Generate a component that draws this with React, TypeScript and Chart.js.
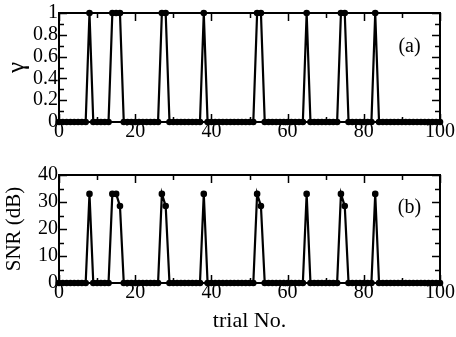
import React, { useEffect, useRef } from "react";
import { Chart, registerables } from "chart.js";

Chart.register(...registerables);

// trials 0..100
const trialStart = 0;
const trialEnd = 100;
// trials where gamma = 1 and the SNR (dB) measured at those trials
const spikeTrials = [8, 14, 15, 16, 27, 28, 38, 52, 53, 65, 74, 75, 83];
const snrAtSpikes = [33, 33, 33, 28.5, 33, 28.5, 33, 33, 28.5, 33, 33, 28.5, 33];
const xTickLabels = [0, 20, 40, 60, 80, 100];
const gammaTickLabels = [0, 0.2, 0.4, 0.6, 0.8, 1];
const snrTickLabels = [0, 10, 20, 30, 40];

const FONT = "'Liberation Serif', 'Times New Roman', serif";

function buildSeries(kind: "gamma" | "snr") {
  const pts: { x: number; y: number }[] = [];
  for (let t = trialStart; t <= trialEnd; t++) {
    const idx = spikeTrials.indexOf(t);
    if (kind === "gamma") pts.push({ x: t, y: idx >= 0 ? 1 : 0 });
    else pts.push({ x: t, y: idx >= 0 ? snrAtSpikes[idx] : 0 });
  }
  return pts;
}

const frameTicks = {
  id: "frameTicks",
  afterDatasetsDraw(chart: any, _args: any, opts: any) {
    const { ctx, chartArea: a, scales } = chart;
    const xs = scales.x;
    const ys = scales.y;
    ctx.save();
    ctx.strokeStyle = "#000";
    ctx.lineWidth = 1.5;
    const steps = (min: number, max: number, minor: number) => {
      const out: number[] = [];
      const n = Math.round((max - min) / minor);
      for (let i = 0; i <= n; i++) out.push(i);
      return out;
    };
    for (const i of steps(xs.min, xs.max, opts.xMinor)) {
      const v = xs.min + i * opts.xMinor;
      const px = Math.round(xs.getPixelForValue(v)) + 0.5;
      const major = i % opts.xRatio === 0;
      const len = major ? 8 : 5;
      ctx.beginPath();
      ctx.moveTo(px, a.bottom);
      ctx.lineTo(px, a.bottom - len);
      ctx.moveTo(px, a.top);
      ctx.lineTo(px, a.top + len);
      ctx.stroke();
    }
    for (const i of steps(ys.min, ys.max, opts.yMinor)) {
      const v = ys.min + i * opts.yMinor;
      const py = Math.round(ys.getPixelForValue(v)) + 0.5;
      const major = i % opts.yRatio === 0;
      const len = major ? 8 : 5;
      ctx.beginPath();
      ctx.moveTo(a.left, py);
      ctx.lineTo(a.left + len, py);
      ctx.moveTo(a.right, py);
      ctx.lineTo(a.right - len, py);
      ctx.stroke();
    }
    ctx.lineWidth = 2;
    ctx.strokeRect(a.left, a.top, a.right - a.left, a.bottom - a.top);
    ctx.fillStyle = "#000";
    ctx.font = `20px ${FONT}`;
    ctx.textAlign = "center";
    ctx.textBaseline = "middle";
    ctx.fillText(opts.label, xs.getPixelForValue(opts.labelX), ys.getPixelForValue(opts.labelY));
    ctx.restore();
  },
};

function makeConfig(
  data: { x: number; y: number }[],
  yMax: number,
  yTicks: number[],
  yTitle: string,
  yTitleSize: number,
  showXTitle: boolean,
  padTop: number,
  xHeight: number,
  plug: any
): any {
  return {
    type: "line",
    data: {
      datasets: [
        {
          data,
          borderColor: "#000",
          borderWidth: 2.2,
          pointRadius: 3.3,
          pointBackgroundColor: "#000",
          pointBorderColor: "#000",
          pointBorderWidth: 0,
          tension: 0,
          clip: false,
        },
      ],
    },
    options: {
      responsive: false,
      animation: false,
      events: [],
      layout: { padding: { top: padTop, right: 16, left: 0, bottom: 0 } },
      plugins: { legend: { display: false }, tooltip: { enabled: false }, frameTicks: plug },
      scales: {
        x: {
          type: "linear",
          min: trialStart,
          max: trialEnd,
          afterBuildTicks: (s: any) => {
            s.ticks = xTickLabels.map((v) => ({ value: v }));
          },
          afterFit: (s: any) => {
            s.height = xHeight;
          },
          grid: { display: false, drawTicks: false },
          border: { display: false },
          ticks: { color: "#000", font: { family: FONT, size: 20 }, padding: -2, maxRotation: 0, autoSkip: false },
          title: {
            display: showXTitle,
            text: "trial No.",
            color: "#000",
            font: { family: FONT, size: 22 },
            padding: { top: 0, bottom: 3 },
          },
        },
        y: {
          min: 0,
          max: yMax,
          afterBuildTicks: (s: any) => {
            s.ticks = yTicks.map((v) => ({ value: v }));
          },
          afterFit: (s: any) => {
            s.width = 59;
          },
          grid: { display: false, drawTicks: false },
          border: { display: false },
          ticks: {
            color: "#000",
            font: { family: FONT, size: 20 },
            padding: 1,
            autoSkip: false,
            callback: (v: any) => String(v),
          },
          title: {
            display: true,
            text: yTitle,
            color: "#000",
            font: { family: FONT, size: yTitleSize },
            padding: { top: 2, bottom: 0 },
          },
        },
      },
    },
    plugins: [frameTicks],
  };
}

export default function App() {
  const topRef = useRef<HTMLCanvasElement>(null);
  const botRef = useRef<HTMLCanvasElement>(null);

  useEffect(() => {
    Chart.defaults.font.family = FONT;
    const c1 = new Chart(
      topRef.current!,
      makeConfig(buildSeries("gamma"), 1, gammaTickLabels, "γ", 25, false, 13, 28, {
        xMinor: 10,
        xRatio: 2,
        yMinor: 0.1,
        yRatio: 2,
        label: "(a)",
        labelX: 92,
        labelY: 0.69,
      })
    );
    const c2 = new Chart(
      botRef.current!,
      makeConfig(buildSeries("snr"), 40, snrTickLabels, "SNR (dB)", 21, true, 25, 54, {
        xMinor: 10,
        xRatio: 2,
        yMinor: 5,
        yRatio: 2,
        label: "(b)",
        labelX: 92,
        labelY: 28,
      })
    );
    return () => {
      c1.destroy();
      c2.destroy();
    };
  }, []);

  return (
    <div style={{ position: "fixed", left: 0, top: 0, width: 456, height: 337, background: "#fff" }}>
      <canvas ref={topRef} width={456} height={150} style={{ position: "absolute", left: 0, top: 0 }} />
      <canvas ref={botRef} width={456} height={187} style={{ position: "absolute", left: 0, top: 150 }} />
    </div>
  );
}
